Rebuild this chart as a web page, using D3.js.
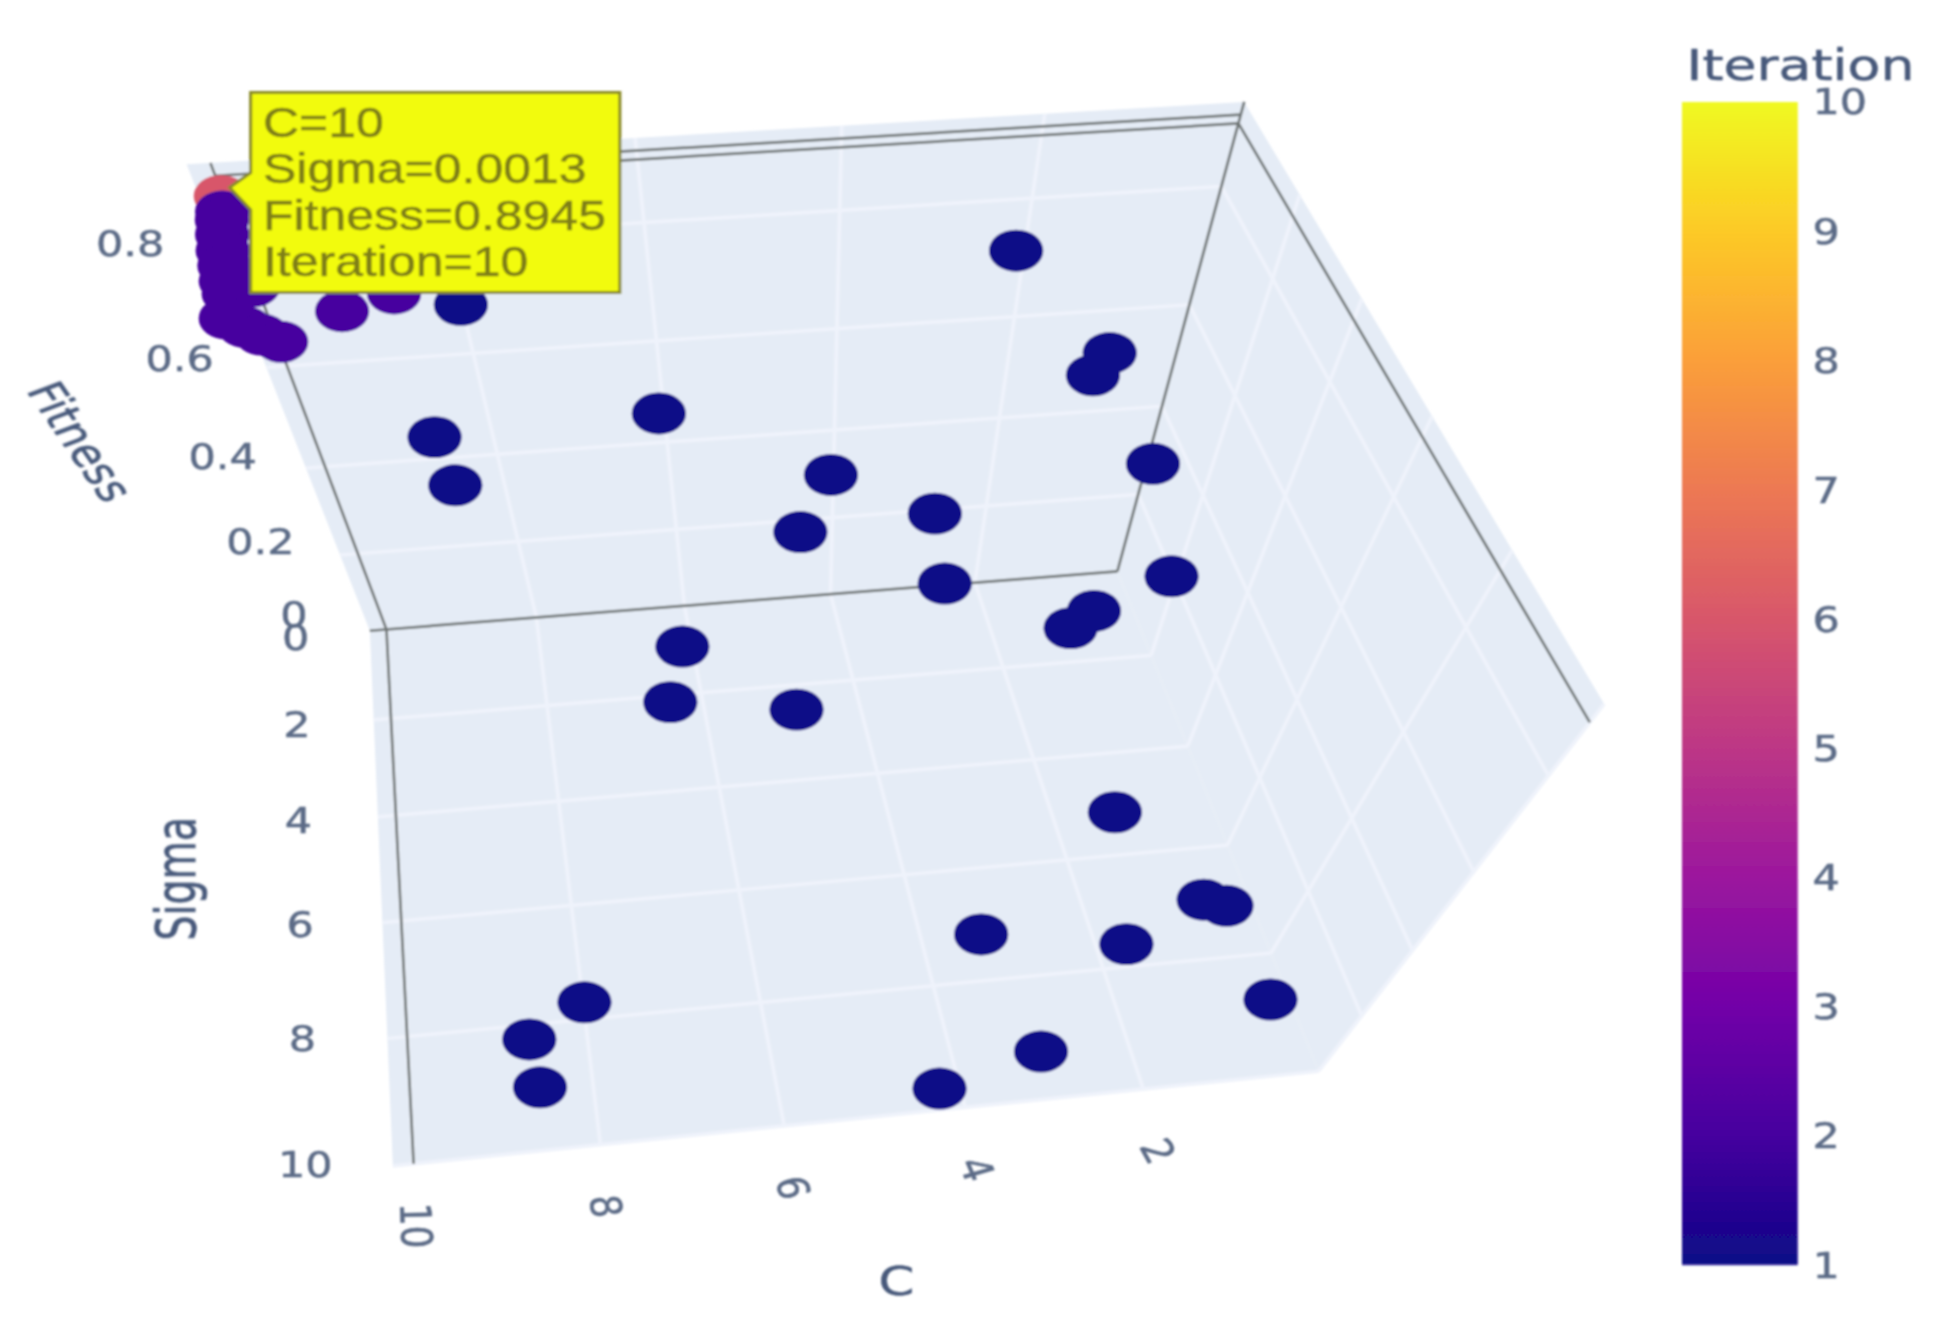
<!DOCTYPE html>
<html>
<head>
<meta charset="utf-8">
<script src="https://cdn.jsdelivr.net/npm/d3@7"></script>
<style>
  body { margin: 0; background: #fff; }
  text { font-family: "DejaVu Sans", sans-serif; }
</style>
</head>
<body>
<svg id="chart" width="1936" height="1323" viewBox="0 0 1568 1072" preserveAspectRatio="none"></svg>
<script>
// values
const cValues = [10, 2.21, 1.52, 1.60, 1.19, 0.39, 1.45, 1.79, 3.06, 3.36, 4.35, 4.71, 6.13, 8.60, 8.47, 7.87, 6.20, 6.46, 5.02, 1.63, 0.85, 0.62, 3.46, 1.89, 0.38, 3.09, 4.29, 7.93, 8.56, 8.54, 9.97, 9.97, 9.99, 9.98, 9.96, 9.97, 9.94, 9.72, 9.96, 9.79, 9.64, 9.49, 8.94, 8.46]
const sigmaValues = [0.1, 0.44, 2.07, 1.93, 3.22, 2.74, 3.31, 3.61, 2.52, 2.90, 1.98, 2.13, 1.53, 0.60, 1.12, 2.09, 2.55, 3.64, 3.99, 6.08, 7.47, 7.61, 7.70, 8.09, 8.99, 9.45, 9.86, 8.19, 8.69, 9.23, 0.50, 0.67, 0.82, 1.14, 1.44, 1.61, 1.85, 1.74, 2.31, 2.49, 2.65, 2.68, 2.19, 1.92]
const fitnessValues = [0.885, 0.75, 0.7, 0.65, 0.6, 0.3, 0.3, 0.3, 0.3, 0.5, 0.5, 0.4, 0.6, 0.5, 0.45, 0.85, 0.2, 0.2, 0.2, 0.15, 0.1, 0.1, 0.1, 0.1, 0.05, 0.05, 0.05, 0.1, 0.1, 0.05, 0.89, 0.89, 0.88, 0.88, 0.88, 0.87, 0.87, 0.87, 0.87, 0.87, 0.87, 0.86, 0.86, 0.86]
const iterationValues = [6, 1, 1, 1, 1, 1, 1, 1, 1, 1, 1, 1, 1, 1, 1, 1, 1, 1, 1, 1, 1, 1, 1, 1, 1, 1, 1, 1, 1, 1, 2, 2, 2, 2, 2, 2, 2, 2, 2, 2, 2, 2, 2, 2]

const cTicks = [2, 4, 6, 8, 10]
const sigmaTicks = [0, 2, 4, 6, 8, 10]
const fitnessTicks = [0, 0.2, 0.4, 0.6, 0.8]
const iterationTicks = [1, 2, 3, 4, 5, 6, 7, 8, 9, 10]
const plasma = ["#0d0887", "#46039f", "#7201a8", "#9c179e", "#bd3786", "#d8576b", "#ed7953", "#fb9f3a", "#fdca26", "#f0f921"]
const hoverLines = ["C=10", "Sigma=0.0013", "Fitness=0.8945", "Iteration=10"]

const cMax = 10.22, fitnessTop = 0.8945, fitnessMax = 0.925

const svg = d3.select("#chart")
const root = svg.append("g").attr("filter", "url(#soft)")
svg.append("defs").append("filter").attr("id", "soft")
    .attr("filterUnits", "userSpaceOnUse")
    .attr("x", 0).attr("y", 0)
    .attr("width", 1568).attr("height", 1072)
  .append("feGaussianBlur").attr("stdDeviation", 0.7)

const uScale = d3.scaleLinear().domain([10, 0]).range([0, 1])
const vScale = d3.scaleLinear().domain([0, 10]).range([0, 1])
const wScale = d3.scaleLinear().domain([0, fitnessTop]).range([0, 1])
const colour = d3.scaleLinear().domain(iterationTicks).range(plasma)

// camera of the 3D scene, as a projective matrix over (u, v, w, 1)
const cam = [
  [621.13, -44.84, -186.8, 313],
  [-32.10, 244.85, -403.4, 510],
  [0.03219, -0.19952, -0.2871, 1]
]
function project(c, s, f) {
  const p = [uScale(c), vScale(s), wScale(f), 1]
  const row = r => d3.sum(r, (k, i) => k * p[i])
  return [row(cam[0]) / row(cam[2]), row(cam[1]) / row(cam[2])]
}

// the source image was stretched sideways, so text is too
function label(parent, x, y, txt, size, opts) {
  const o = Object.assign({ sx: 1.2, angle: 0, fill: "#5b6b86", anchor: "middle" }, opts)
  return parent.append("text")
    .attr("transform", "translate(" + x + "," + y + ") scale(" + o.sx + ",1) rotate(" + o.angle + ")")
    .attr("text-anchor", o.anchor)
    .attr("dominant-baseline", "central")
    .attr("font-size", size)
    .attr("fill", o.fill)
    .attr("stroke", o.fill)
    .attr("stroke-width", 0.4)
    .text(txt)
}

// walls
const walls = root.append("g")
const wallCorners = [
  [[cMax, 0, 0], [0, 0, 0], [0, 0, fitnessMax], [cMax, 0, fitnessMax]],
  [[cMax, 0, 0], [0, 0, 0], [0, 10, 0], [cMax, 10, 0]],
  [[0, 0, 0], [0, 10, 0], [0, 10, fitnessMax], [0, 0, fitnessMax]]
]
walls.selectAll("polygon").data(wallCorners).enter().append("polygon")
    .attr("points", d => d.map(k => project(k[0], k[1], k[2]).join(",")).join(" "))
    .attr("fill", "#e5ecf6")

// grid
const line3d = (a, b) => [project(a[0], a[1], a[2]), project(b[0], b[1], b[2])]
const gridSegments = []
cTicks.forEach(c => {
  gridSegments.push(line3d([c, 0, 0], [c, 10, 0]))
  gridSegments.push(line3d([c, 0, 0], [c, 0, fitnessMax]))
})
sigmaTicks.slice(1).forEach(s => {
  gridSegments.push(line3d([cMax, s, 0], [0, s, 0]))
  gridSegments.push(line3d([0, s, 0], [0, s, fitnessMax]))
})
fitnessTicks.slice(1).forEach(f => {
  gridSegments.push(line3d([cMax, 0, f], [0, 0, f]))
  gridSegments.push(line3d([0, 0, f], [0, 10, f]))
})
const path = d3.line()
root.append("g").selectAll("path").data(gridSegments).enter().append("path")
    .attr("d", path)
    .attr("fill", "none")
    .attr("stroke", "#eff3fb")
    .attr("stroke-width", 3)

// axis lines
const axisSegments = [
  line3d([cMax, 0, 0], [0, 0, 0]),
  line3d([10, 0, 0], [10, 10, 0]),
  line3d([10, 0, 0], [10, 0, fitnessMax]),
  line3d([0, 0, 0], [0, 0, fitnessMax]),
  line3d([0, 0, fitnessTop], [0, 10, fitnessTop]),
  line3d([0, 0, fitnessTop], [10, 0, fitnessTop]),
  line3d([0, 0, fitnessTop * 1.014], [10, 0, fitnessTop * 1.014])
]
root.append("g").selectAll("path").data(axisSegments).enter().append("path")
    .attr("d", path)
    .attr("fill", "none")
    .attr("stroke", "#6e7474")
    .attr("stroke-width", 2.2)

// tick labels
const ticks = root.append("g")
const cAngle = d3.scaleLinear().domain([10, 2]).range([88, 65])
const cShift = d3.scaleLinear().domain([10, 2]).range([2, 12])
cTicks.forEach(c => {
  const p = project(c, 10, 0)
  label(ticks, p[0] + cShift(c), p[1] + 50, c, 29, { angle: cAngle(c) })
})
sigmaTicks.forEach(s => {
  const p = project(cMax, s, 0)
  label(ticks, p[0] - 60 - 1.1 * s, p[1] + 5 - 0.6 * s, s, 29)
})
fitnessTicks.forEach(f => {
  const p = project(10, 0, f)
  label(ticks, p[0] - 75 - 20 * f, p[1] - 12 + 10 * f, f, 29)
})

// axis titles
label(root, 726, 1038, "C", 32, { sx: 1.3, fill: "#47597a" })
label(root, 142, 712, "Sigma", 32, { sx: 1.4, angle: -90, fill: "#47597a" })
label(root, 65, 358, "Fitness", 30, { sx: 1.35, angle: 63, fill: "#47597a" })

// points
root.append("g").selectAll("ellipse").data(d3.range(cValues.length)).enter().append("ellipse")
    .attr("cx", i => project(cValues[i], sigmaValues[i], fitnessValues[i])[0])
    .attr("cy", i => project(cValues[i], sigmaValues[i], fitnessValues[i])[1])
    .attr("rx", 22)
    .attr("ry", 17)
    .attr("fill", i => colour(iterationValues[i]))

// hover label
const hover = root.append("g")
hover.append("path")
    .attr("d", d3.line()([[203, 75], [502, 75], [502, 237], [203, 237], [203, 170], [186, 152], [203, 140]]) + "Z")
    .attr("fill", "#f2fb0c")
    .attr("stroke", "#8a8a28")
    .attr("stroke-width", 2.5)
const hoverY = d3.scalePoint().domain(hoverLines).range([99, 212])
hoverLines.forEach(t => {
  label(hover, 213, hoverY(t), t, 34, { sx: 1.19, anchor: "start", fill: "#7f7f14" })
    .style("font-family", "'Liberation Sans', Arial, sans-serif")
})

// colorbar
const barY = d3.scaleLinear().domain([1, 10]).range([1025, 83])
const grad = svg.select("defs").append("linearGradient")
    .attr("id", "plasma").attr("x1", 0).attr("x2", 0).attr("y1", 1).attr("y2", 0)
grad.selectAll("stop").data(iterationTicks).enter().append("stop")
    .attr("offset", d => (d - 1) / 9)
    .attr("stop-color", d => colour(d))
root.append("rect")
    .attr("x", 1362).attr("y", barY(10))
    .attr("width", 94).attr("height", barY(1) - barY(10))
    .attr("fill", "url(#plasma)")
iterationTicks.forEach(t => {
  label(root, 1468, barY(t) - (t === 10 ? 1 : 0), t, 29, { anchor: "start" })
})
label(root, 1366, 53, "Iteration", 34, { sx: 1.28, anchor: "start", fill: "#47597a" })
</script>
</body>
</html>
